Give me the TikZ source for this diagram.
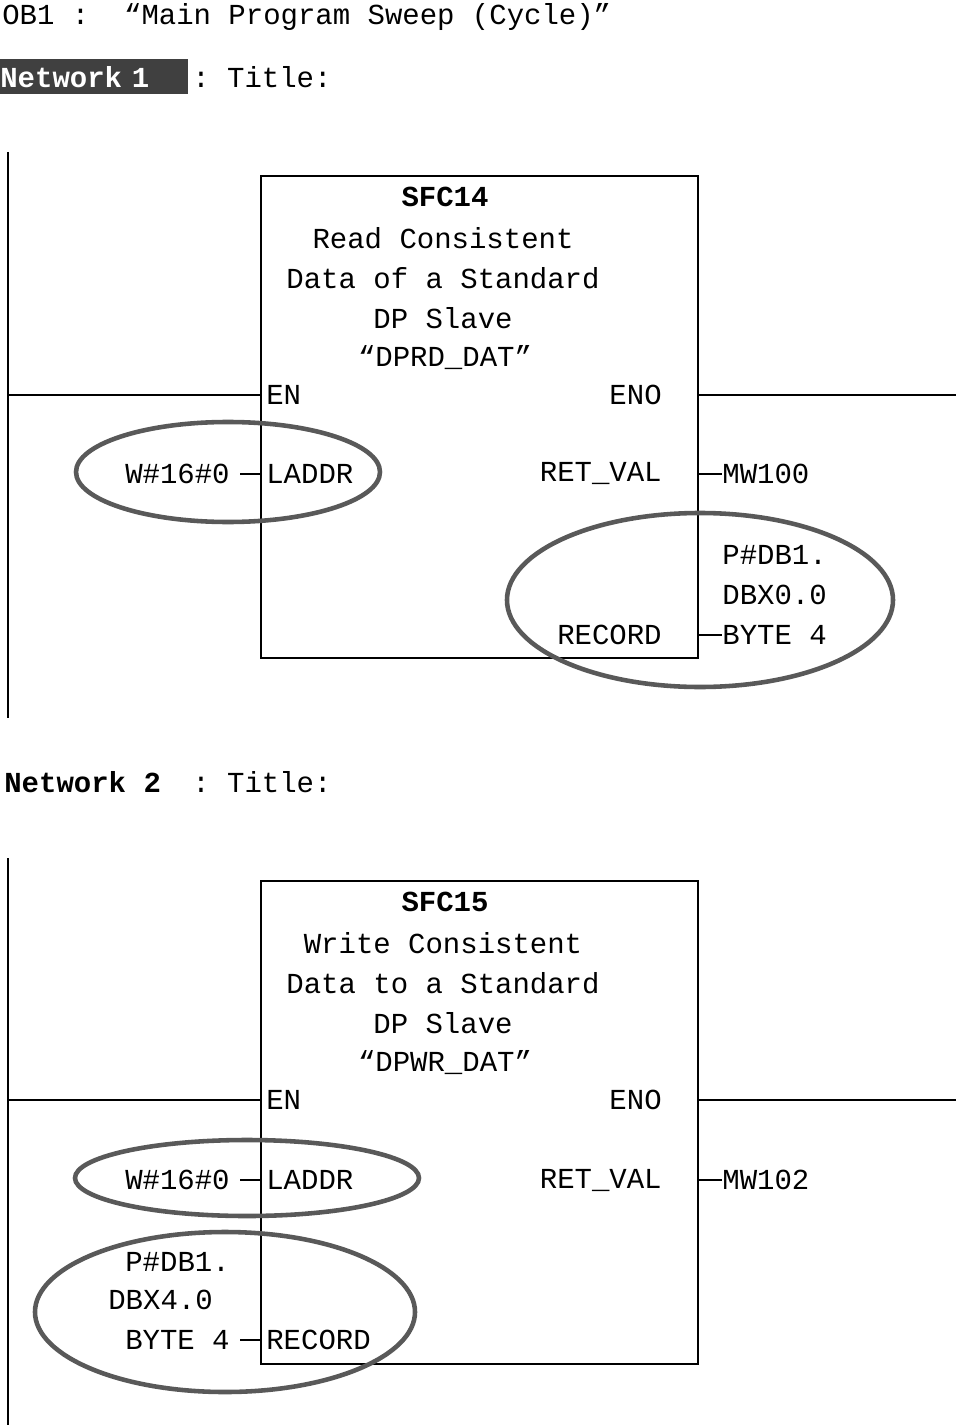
\documentclass[tikz,border=0pt]{standalone}
\usepackage{fontspec}
\setmonofont{Liberation Mono}
\usetikzlibrary{positioning}
\tikzset{
lbl/.style={font=\ttfamily\fontsize{16.5pt}{18pt}\selectfont, inner sep=0pt},
blk/.style={draw, line width=1.2pt},
wire/.style={line width=1.2pt},
ring/.style={draw=gray!70!black, line width=2.6pt}
}
\begin{document}
\begin{tikzpicture}[x=0.02cm,y=-0.02cm]
\useasboundingbox (0,0) rectangle (956,1425);
% header
\node (ob) [lbl, anchor=west] at (2,17) {OB1 :\ \ “Main Program Sweep (Cycle)”};
\node (net1) [lbl, anchor=west, fill=black!75, text=white, font=\ttfamily\bfseries\fontsize{16.5pt}{18pt}\selectfont, minimum height=0.7cm, minimum width=3.76cm, align=left, text width=3.76cm] at (0,77) {Network 1};
\node (tit1) [lbl, anchor=west] at (192,77) {: Title:};

% network 1
\coordinate (rail1a) at (8,152);
\coordinate (rail1b) at (8,718);
\draw [wire] (rail1a) -- (rail1b);
\node (sfc14) [blk, minimum width=8.74cm, minimum height=9.64cm, anchor=north west] at (260,175) {};
\node (t14a) [lbl, font=\ttfamily\bfseries\fontsize{16.5pt}{18pt}\selectfont] at (445,197) {SFC14};
\node (t14b) [lbl] at (443,238) {Read Consistent};
\node (t14c) [lbl] at (443,278) {Data of a Standard};
\node (t14d) [lbl] at (443,318) {DP Slave};
\node (t14e) [lbl] at (445,358) {“DPRD\_DAT”};
\node (en1) [lbl, anchor=west] at (266,395) {EN};
\node (eno1) [lbl, anchor=east] at (662,395) {ENO};
\node (laddr1) [lbl, anchor=west] at (266,474) {LADDR};
\node (ret1) [lbl, anchor=east] at (662,474) {RET\_VAL};
\node (rec1) [lbl, anchor=east] at (662,635) {RECORD};
\node (w1) [lbl, anchor=east] at (230,474) {W\#16\#0};
\node (mw100) [lbl, anchor=west] at (722,474) {MW100};
\node (p1a) [lbl, anchor=west] at (722,555) {P\#DB1.};
\node (p1b) [lbl, anchor=west] at (722,595) {DBX0.0};
\node (p1c) [lbl, anchor=west] at (722,635) {BYTE 4};
\draw [wire] (8,395) -- (sfc14.west |- 0,395);
\draw [wire] (sfc14.east |- 0,395) -- (956,395);
\draw [wire] (240,474) -- (260,474);
\draw [wire] (697,474) -- (mw100.west);
\draw [wire] (697,635) -- (p1c.west);
\draw [ring] (228,472) ellipse [x radius=152, y radius=50];
\draw [ring] (700,600) ellipse [x radius=193, y radius=87];

% network 2
\node (net2) [lbl, anchor=west, font=\ttfamily\bfseries\fontsize{16.5pt}{18pt}\selectfont] at (4,782) {Network 2};
\node (tit2) [lbl, anchor=west] at (192,782) {: Title:};
\coordinate (rail2a) at (8,858);
\coordinate (rail2b) at (8,1425);
\draw [wire] (rail2a) -- (rail2b);
\node (sfc15) [blk, minimum width=8.74cm, minimum height=9.66cm, anchor=north west] at (260,880) {};
\node (t15a) [lbl, font=\ttfamily\bfseries\fontsize{16.5pt}{18pt}\selectfont] at (445,902) {SFC15};
\node (t15b) [lbl] at (443,943) {Write Consistent};
\node (t15c) [lbl] at (443,983) {Data to a Standard};
\node (t15d) [lbl] at (443,1023) {DP Slave};
\node (t15e) [lbl] at (445,1063) {“DPWR\_DAT”};
\node (en2) [lbl, anchor=west] at (266,1100) {EN};
\node (eno2) [lbl, anchor=east] at (662,1100) {ENO};
\node (laddr2) [lbl, anchor=west] at (266,1180) {LADDR};
\node (ret2) [lbl, anchor=east] at (662,1180) {RET\_VAL};
\node (rec2) [lbl, anchor=west] at (266,1340) {RECORD};
\node (w2) [lbl, anchor=east] at (230,1180) {W\#16\#0};
\node (mw102) [lbl, anchor=west] at (722,1180) {MW102};
\node (p2a) [lbl, anchor=west] at (125,1262) {P\#DB1.};
\node (p2b) [lbl, anchor=west] at (108,1300) {DBX4.0};
\node (p2c) [lbl, anchor=east] at (230,1340) {BYTE 4};
\draw [wire] (8,1100) -- (sfc15.west |- 0,1100);
\draw [wire] (sfc15.east |- 0,1100) -- (956,1100);
\draw [wire] (240,1180) -- (260,1180);
\draw [wire] (697,1180) -- (mw102.west);
\draw [wire] (240,1340) -- (260,1340);
\draw [ring] (247,1178) ellipse [x radius=172, y radius=38];
\draw [ring] (225,1312) ellipse [x radius=190, y radius=80];
\end{tikzpicture}
\end{document}
